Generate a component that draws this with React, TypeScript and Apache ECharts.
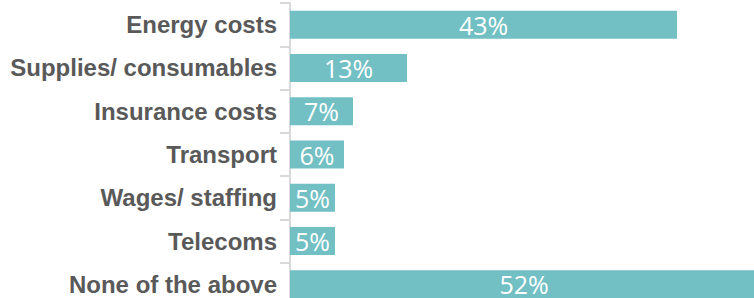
import React, { useEffect, useRef } from "react";
import * as echarts from "echarts";

const categories = [
  "Energy costs",
  "Supplies/ consumables",
  "Insurance costs",
  "Transport",
  "Wages/ staffing",
  "Telecoms",
  "None of the above",
];
const values = [43, 13, 7, 6, 5, 5, 52];

export default function App() {
  const ref = useRef<HTMLDivElement>(null);
  useEffect(() => {
    if (!ref.current) return;
    const chart = echarts.init(ref.current, undefined, { renderer: "svg" });
    chart.setOption({
      animation: false,
      grid: { left: 290, right: 0, top: 3, bottom: 0, containLabel: false },
      xAxis: {
        type: "value",
        min: 0,
        max: 52,
        show: false,
      },
      yAxis: {
        type: "category",
        data: categories,
        inverse: true,
        offset: 1,
        axisLine: { show: true, lineStyle: { color: "#d9d9d9", width: 2 } },
        axisTick: { show: true, length: 10, lineStyle: { color: "#d9d9d9", width: 2 } },
        axisLabel: {
          margin: 12,
          color: "#595959",
          fontFamily: "Liberation Sans, Arial, sans-serif",
          fontWeight: "bold",
          fontSize: 24,
        },
        splitLine: { show: false },
      },
      series: [
        {
          type: "bar",
          data: values,
          barWidth: 28,
          itemStyle: { color: "#72bfc4" },
          label: {
            show: true,
            position: "inside",
            formatter: "{c}%",
            color: "#ffffff",
            fontFamily: "Open Sans, sans-serif",
            fontSize: 25,
          },
        },
      ],
    });
    return () => chart.dispose();
  }, []);
  return (
    <div
      style={{
        position: "absolute",
        left: 0,
        top: 0,
        width: 754,
        height: 298,
        overflow: "hidden",
      }}
    >
      <div ref={ref} style={{ width: 758, height: 306 }} />
    </div>
  );
}
